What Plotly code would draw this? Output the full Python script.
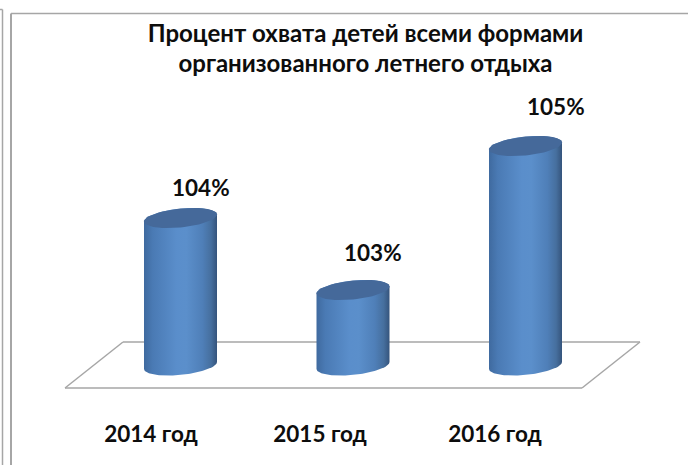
import math
import plotly.graph_objects as go

# ---- data ----
categories = ["2014 год", "2015 год", "2016 год"]
values = [104, 103, 105]
labels = ["104%", "103%", "105%"]
title_lines = ["Процент охвата детей всеми формами", "организованного летнего отдыха"]

# ---- styling / layout helpers ----
W, H = 688, 465
BOTTOM = 47
PLOT_H = H - BOTTOM
X0_PX, X_STEP = 180.5, 172.5      # pixel of category 0, pixels per category
Y_REF_PX, Y_STEP = 146.0, 72.0    # pixel of value 105, pixels per unit
BASE = 105 - (365.5 - Y_REF_PX) / Y_STEP
FONT = "Lato"
TEXT = "#0d0d0d"
GRID = "#a6a6a6"
TOP_COLOR = "#45699a"
SCALE = [[0, "#3f6a9f"], [0.12, "#4a7ab4"], [0.45, "#5a8ecb"], [0.58, "#5b8fcb"],
         [0.8, "#4f7fb8"], [0.92, "#466f9e"], [1, "#35547c"]]
A = 36.5 / X_STEP      # half width of a cylinder (x units)
TILT = 3.5 / Y_STEP    # rise of the ellipse from left to right (y units)
B = 9.4 / Y_STEP       # half height of the ellipse (y units)
TICK_SHIFT = [-0.171, -0.191, -0.177]
LABEL_SHIFT = [(20, -31), (20, -38), (30, -40)]


def ellipse(cx, cy, t0, t1, n=60):
    xs, ys = [], []
    for i in range(n + 1):
        t = t0 + (t1 - t0) * i / n
        xs.append(cx + A * math.cos(t))
        ys.append(cy + TILT * math.cos(t) + B * math.sin(t))
    return xs, ys


fig = go.Figure()
xpos = list(range(len(values)))

fig.add_trace(go.Bar(
    x=xpos, y=[v - BASE for v in values], base=BASE, width=0.3,
    marker=dict(color="#5a8ecb", line_width=0), customdata=categories,
    hovertemplate="%{customdata}: %{text}<extra></extra>", text=labels,
    textposition="none", showlegend=False))

for i, v in enumerate(values):
    bx, by = ellipse(i, BASE, math.pi, 2 * math.pi)      # front of the foot
    tx, ty = ellipse(i, v, 0, math.pi)                    # back of the head
    fig.add_trace(go.Scatter(
        x=bx + tx + bx[:1], y=by + ty + by[:1], mode="lines", line_width=0,
        fill="toself", hoverinfo="skip", showlegend=False,
        fillgradient=dict(type="horizontal", colorscale=SCALE)))
    hx, hy = ellipse(i, v, 0, 2 * math.pi)
    fig.add_trace(go.Scatter(
        x=hx, y=hy, mode="lines", line_width=0, fill="toself",
        fillcolor=TOP_COLOR, hoverinfo="skip", showlegend=False))

def px(x):
    return x / W

def py(y):
    return 1 - y / PLOT_H

def seg(x0, y0, x1, y1, width=1.5, color=GRID):
    return dict(type="line", xref="paper", yref="paper", layer="below",
                x0=px(x0), y0=py(y0), x1=px(x1), y1=py(y1),
                line=dict(color=color, width=width))

shapes = [
    seg(65, 388, 123, 342), seg(123, 342, 640, 342),
    seg(640, 342, 582, 388), seg(582, 388, 65, 388),
    seg(2.5, 9.5, 2.5, H, 1.5), seg(0, 9.5, 2.5, 9.5, 1.5),
    seg(11, 13.5, 11, H, 2), seg(11, 13.5, W, 13.5, 1.5),
]

annotations = [
    dict(x=i, y=v, xref="x", yref="y", text=f"<b>{labels[i]}</b>", showarrow=False,
         xshift=LABEL_SHIFT[i][0], yshift=-LABEL_SHIFT[i][1],
         font=dict(family=FONT, size=22.5, color=TEXT))
    for i, v in enumerate(values)
]

fig.update_layout(
    width=W, height=H, margin=dict(l=0, r=0, t=0, b=BOTTOM), autosize=False,
    paper_bgcolor="white", plot_bgcolor="rgba(0,0,0,0)", showlegend=False,
    shapes=shapes, annotations=annotations,
    title=dict(
        text="<br>".join(f'<span style="font-size:24px"><b>{t}</b></span>' for t in title_lines),
        x=365.5 / W, xanchor="center", y=1 - 42 / H, yanchor="middle",
        font=dict(family=FONT, size=23, color=TEXT)),
    xaxis=dict(
        range=[-X0_PX / X_STEP, (W - X0_PX) / X_STEP], showgrid=False, zeroline=False,
        showline=False, ticks="", tickmode="array",
        tickvals=[i + s for i, s in zip(xpos, TICK_SHIFT)],
        ticktext=[f"<b>{c}</b>" for c in categories], tickangle=0,
        tickfont=dict(family=FONT, size=22.5, color=TEXT)),
    yaxis=dict(
        range=[105 - (PLOT_H - Y_REF_PX) / Y_STEP, 105 + Y_REF_PX / Y_STEP],
        showgrid=False, zeroline=False, showline=False, showticklabels=False, ticks=""),
)

fig.write_html("out.html", config={"displayModeBar": False},
               post_script="document.body.style.margin='0';")
